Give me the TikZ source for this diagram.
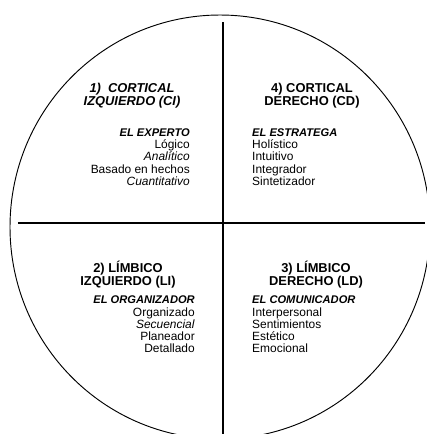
\documentclass[tikz,border=0pt]{standalone}
\usepackage{fontspec}
\setmainfont{Liberation Sans}
\usetikzlibrary{positioning}
\tikzset{
    divider/.style={line width=1.3pt, black},
    rim/.style={line width=0.8pt, black},
    quadhead/.style={font=\fontsize{11}{9.6}\selectfont\bfseries, align=center, inner sep=0pt},
    quadlist/.style={font=\fontsize{10.2}{10.5}\selectfont, inner sep=0pt},
}
\newcommand{\qtitle}[1]{{\fontsize{9.5}{10.5}\selectfont\bfseries\itshape #1}}

\begin{document}
\begin{tikzpicture}[x=0.03cm, y=-0.03cm]
    \useasboundingbox (0,0) rectangle (427,434);
    \clip (0,0) rectangle (427,434);
    % Outer rim
    \draw[rim] (220,227) ellipse [x radius=210, y radius=212];
    % Dividers
    \coordinate (top) at (223,22);
    \coordinate (bot) at (223,434);
    \coordinate (lft) at (18,223);
    \coordinate (rgt) at (425,223);
    \draw[divider] (top) -- (bot);
    \draw[divider] (lft) -- (rgt);
    % Quadrant headings
    \node[quadhead, font=\fontsize{11}{9.6}\selectfont\bfseries\itshape] (ci) at (132,95.5) {1)\ \ CORTICAL\\IZQUIERDO (CI)};
    \node[quadhead] (cd) at (312,95.5) {4) CORTICAL\\DERECHO (CD)};
    \node[quadhead] (li) at (128,274.5) {2) LÍMBICO\\IZQUIERDO (LI)};
    \node[quadhead] (ld) at (316,274.5) {3) LÍMBICO\\DERECHO (LD)};
    % Quadrant lists
    \node[quadlist, anchor=east, align=right] (ci-list) at (190,157)
        {\qtitle{EL EXPERTO}\\Lógico\\\textit{Analítico}\\Basado en hechos\\\textit{Cuantitativo}};
    \node[quadlist, anchor=west, align=left] (cd-list) at (252,157)
        {\qtitle{EL ESTRATEGA}\\Holístico\\Intuitivo\\Integrador\\Sintetizador};
    \node[quadlist, anchor=east, align=right] (li-list) at (195,324.5)
        {\qtitle{EL ORGANIZADOR}\\Organizado\\\textit{Secuencial}\\Planeador\\Detallado};
    \node[quadlist, anchor=west, align=left] (ld-list) at (252,324.5)
        {\qtitle{EL COMUNICADOR}\\Interpersonal\\Sentimientos\\Estético\\Emocional};
\end{tikzpicture}
\end{document}
